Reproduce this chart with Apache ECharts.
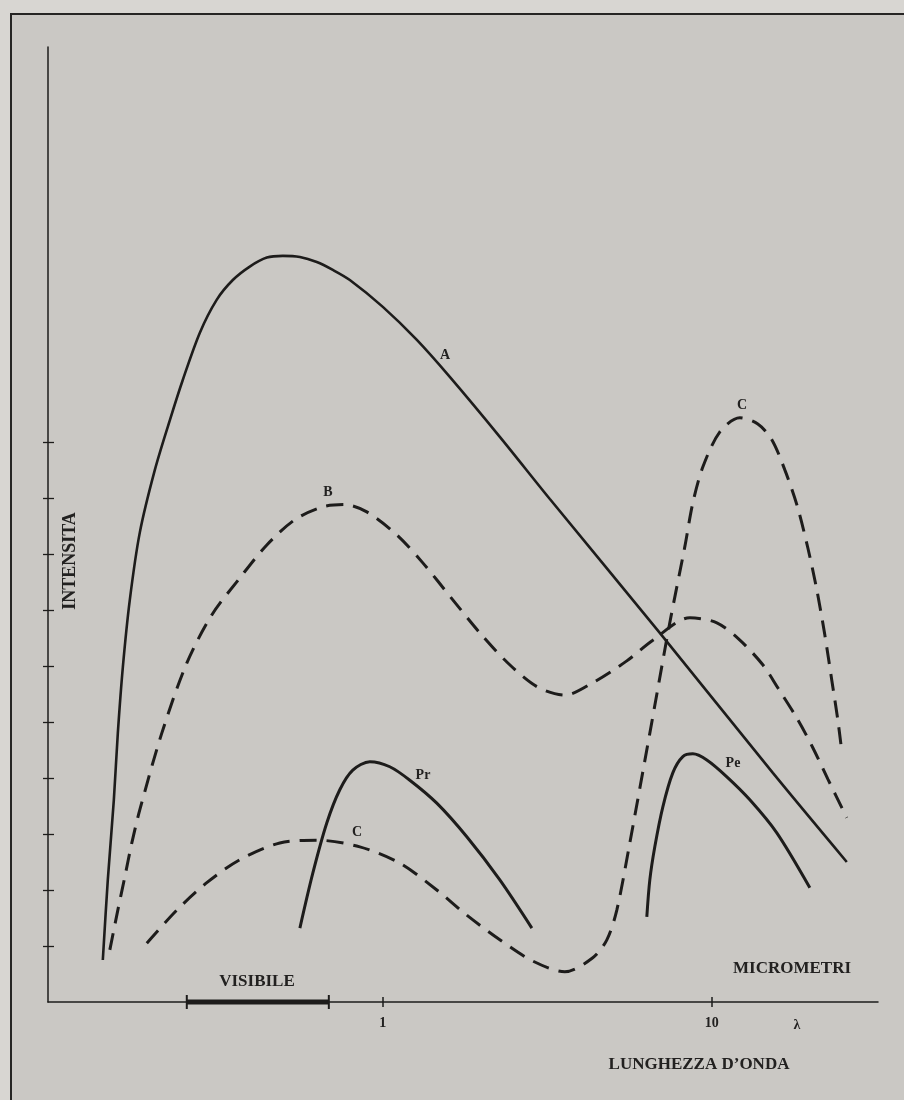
<!DOCTYPE html>
<html>
<head>
<meta charset="utf-8">
<script src="https://cdn.jsdelivr.net/npm/echarts@6/dist/echarts.min.js"></script>
<style>
html,body{margin:0;padding:0;background:#d6d4d0;}
#chart{width:904px;height:1100px;}
</style>
</head>
<body>
<div id="chart"></div>
<script>
// Wavelength in micrometres (log scale) and intensity in tick units
const lambdaA = [0.1409,0.1459,0.1522,0.1565,0.1621,0.1702,0.1825,0.2028,0.2253,0.2467,0.2779,0.3129,0.3500,0.3941,0.4441,0.4966,0.5596,0.6299,0.7047,0.7938,1.000,1.269,1.598,2.268,3.219,6.948,15.33,25.72];
const intensA = [0.75,2.18,3.61,4.80,5.98,7.18,8.38,9.50,10.39,11.11,11.95,12.54,12.89,13.13,13.29,13.32,13.30,13.21,13.07,12.89,12.41,11.82,11.16,10.09,8.98,6.59,4.09,2.50];

const lambdaB = [0.1480,0.1565,0.1643,0.1726,0.1825,0.2129,0.2536,0.3021,0.3675,0.4441,0.5402,0.6573,0.7666,0.8941,1.103,1.323,1.632,1.972,2.382,2.939,3.574,4.347,5.516,6.618,8.574,10.36,12.17,14.29,15.87,18.13,20.28,22.53,25.72];
const intensB = [0.93,1.64,2.23,2.84,3.43,4.80,6.05,6.91,7.57,8.16,8.61,8.84,8.88,8.75,8.34,7.84,7.18,6.59,6.07,5.63,5.48,5.70,6.09,6.46,6.86,6.77,6.46,6.02,5.61,5.07,4.54,3.98,3.29];

const lambdaC = [0.1917,0.2365,0.2917,0.3675,0.4863,0.6299,0.8513,1.126,1.459,1.800,2.268,2.858,3.574,4.347,4.797,5.143,5.633,6.480,7.452,8.279,8.756,9.389,10.58,12.17,13.80,15.22,16.67,18.13,19.58,20.85,22.06,23.15,24.15,24.85];
const intensC = [1.05,1.64,2.13,2.54,2.84,2.89,2.77,2.48,2.00,1.55,1.11,0.73,0.54,0.79,1.11,1.64,2.84,4.80,6.77,8.13,8.91,9.55,10.18,10.43,10.32,10.04,9.50,8.88,8.11,7.36,6.55,5.75,5.04,4.46];

const lambdaPr = [0.5596,0.6126,0.6759,0.7400,0.8104,0.9130,1.050,1.208,1.459,1.800,2.268,2.838];
const intensPr = [1.32,2.30,3.20,3.79,4.14,4.29,4.20,3.96,3.55,2.95,2.18,1.32];

const lambdaPe = [6.345,6.480,6.710,7.096,7.611,8.165,8.756,9.656,11.11,13.05,15.76,19.86];
const intensPe = [1.52,2.18,2.77,3.48,4.09,4.38,4.43,4.32,4.02,3.61,3.02,2.04];

const visibleRange = [0.2536, 0.6853];
const xTickValues = [1, 10];
const yTickValues = [1,2,3,4,5,6,7,8,9,10];

const zip = (xs, ys) => xs.map((x, i) => [x, ys[i]]);

const INK = '#1d1c1b';
const SERIF = '"Liberation Serif","DejaVu Serif",serif';
const X_MIN = 0.096, X_MAX = 32, Y_MAX = 17.05;

const chart = echarts.init(document.getElementById('chart'), null, {renderer: 'canvas'});

function curve(name, data, width, dashed) {
  return {
    name, type: 'line', data,
    xAxisIndex: 0, yAxisIndex: 0,
    showSymbol: false, smooth: 0.3,
    clip: false,
    lineStyle: {color: INK, width: width, type: dashed ? [17, 10] : 'solid', cap: 'butt'},
    z: 3
  };
}

function txt(text, x, y, size, rotation) {
  return {
    type: 'text', x, y, rotation: rotation || 0, z: 10,
    style: {text, fill: '#222120', font: 'bold ' + size + 'px ' + SERIF,
            textAlign: 'center', textVerticalAlign: 'middle'}
  };
}

const option = {
  backgroundColor: '#cac8c4',
  animation: false,
  grid: {left: 48, top: 47, width: 830, height: 955, containLabel: false},
  xAxis: [
    {
      type: 'log', logBase: 10, min: X_MIN, max: X_MAX, position: 'bottom',
      axisLine: {show: true, lineStyle: {color: INK, width: 1.5}},
      axisTick: {show: true, inside: false, length: 5, customValues: xTickValues, lineStyle: {color: INK, width: 1.5}},
      axisLabel: {show: true, customValues: xTickValues, margin: 14, color: '#222120',
                  fontFamily: SERIF, fontWeight: 'bold', fontSize: 14, formatter: v => String(v)},
      splitLine: {show: false}, minorTick: {show: false}
    },
    {
      type: 'log', logBase: 10, min: X_MIN, max: X_MAX, position: 'bottom',
      axisLine: {show: false},
      axisTick: {show: true, inside: true, length: 5, customValues: xTickValues, lineStyle: {color: INK, width: 1.5}},
      axisLabel: {show: false}, splitLine: {show: false}
    }
  ],
  yAxis: [
    {
      type: 'value', min: 0, max: Y_MAX, position: 'left',
      axisLine: {show: true, lineStyle: {color: INK, width: 1.5}},
      axisTick: {show: true, inside: false, length: 5, customValues: yTickValues, lineStyle: {color: INK, width: 1.3}},
      axisLabel: {show: false}, splitLine: {show: false}
    },
    {
      type: 'value', min: 0, max: Y_MAX, position: 'left',
      axisLine: {show: false},
      axisTick: {show: true, inside: true, length: 6, customValues: yTickValues, lineStyle: {color: INK, width: 1.3}},
      axisLabel: {show: false}, splitLine: {show: false}
    }
  ],
  series: [
    curve('A', zip(lambdaA, intensA), 2.6, false),
    curve('B', zip(lambdaB, intensB), 3, true),
    curve('C', zip(lambdaC, intensC), 3, true),
    curve('Pr', zip(lambdaPr, intensPr), 3, false),
    curve('Pe', zip(lambdaPe, intensPe), 3, false),
    {
      name: 'Visibile', type: 'line', data: visibleRange.map(v => [v, 0]),
      xAxisIndex: 0, yAxisIndex: 0, clip: false,
      showSymbol: true, symbol: 'rect', symbolSize: [2, 14],
      itemStyle: {color: INK},
      lineStyle: {color: INK, width: 5, cap: 'butt'}, z: 5
    }
  ],
  graphic: {
    elements: [
      {type: 'rect', shape: {x: 0, y: 0, width: 904, height: 13}, style: {fill: '#d8d6d2'}, z: 1},
      {type: 'rect', shape: {x: 0, y: 0, width: 10, height: 1100}, style: {fill: '#d8d6d2'}, z: 1},
      {type: 'line', shape: {x1: 10, y1: 14, x2: 904, y2: 14}, style: {stroke: '#262524', lineWidth: 2}, z: 2},
      {type: 'line', shape: {x1: 11, y1: 14, x2: 11, y2: 1100}, style: {stroke: '#262524', lineWidth: 2}, z: 2},
      txt('A', 445, 355, 14),
      txt('B', 328, 492, 14),
      txt('C', 742, 405, 14),
      txt('C', 357, 832, 14),
      txt('Pr', 423, 775, 14),
      txt('Pe', 733, 763, 14),
      txt('VISIBILE', 257, 982, 17),
      txt('MICROMETRI', 792, 969, 17),
      txt('LUNGHEZZA D\u2019ONDA', 699, 1065, 17),
      txt('\u03bb', 797, 1025, 14),
      txt('INTENSITA', 70, 561, 18, Math.PI / 2)
    ]
  }
};
chart.setOption(option);
</script>
</body>
</html>
